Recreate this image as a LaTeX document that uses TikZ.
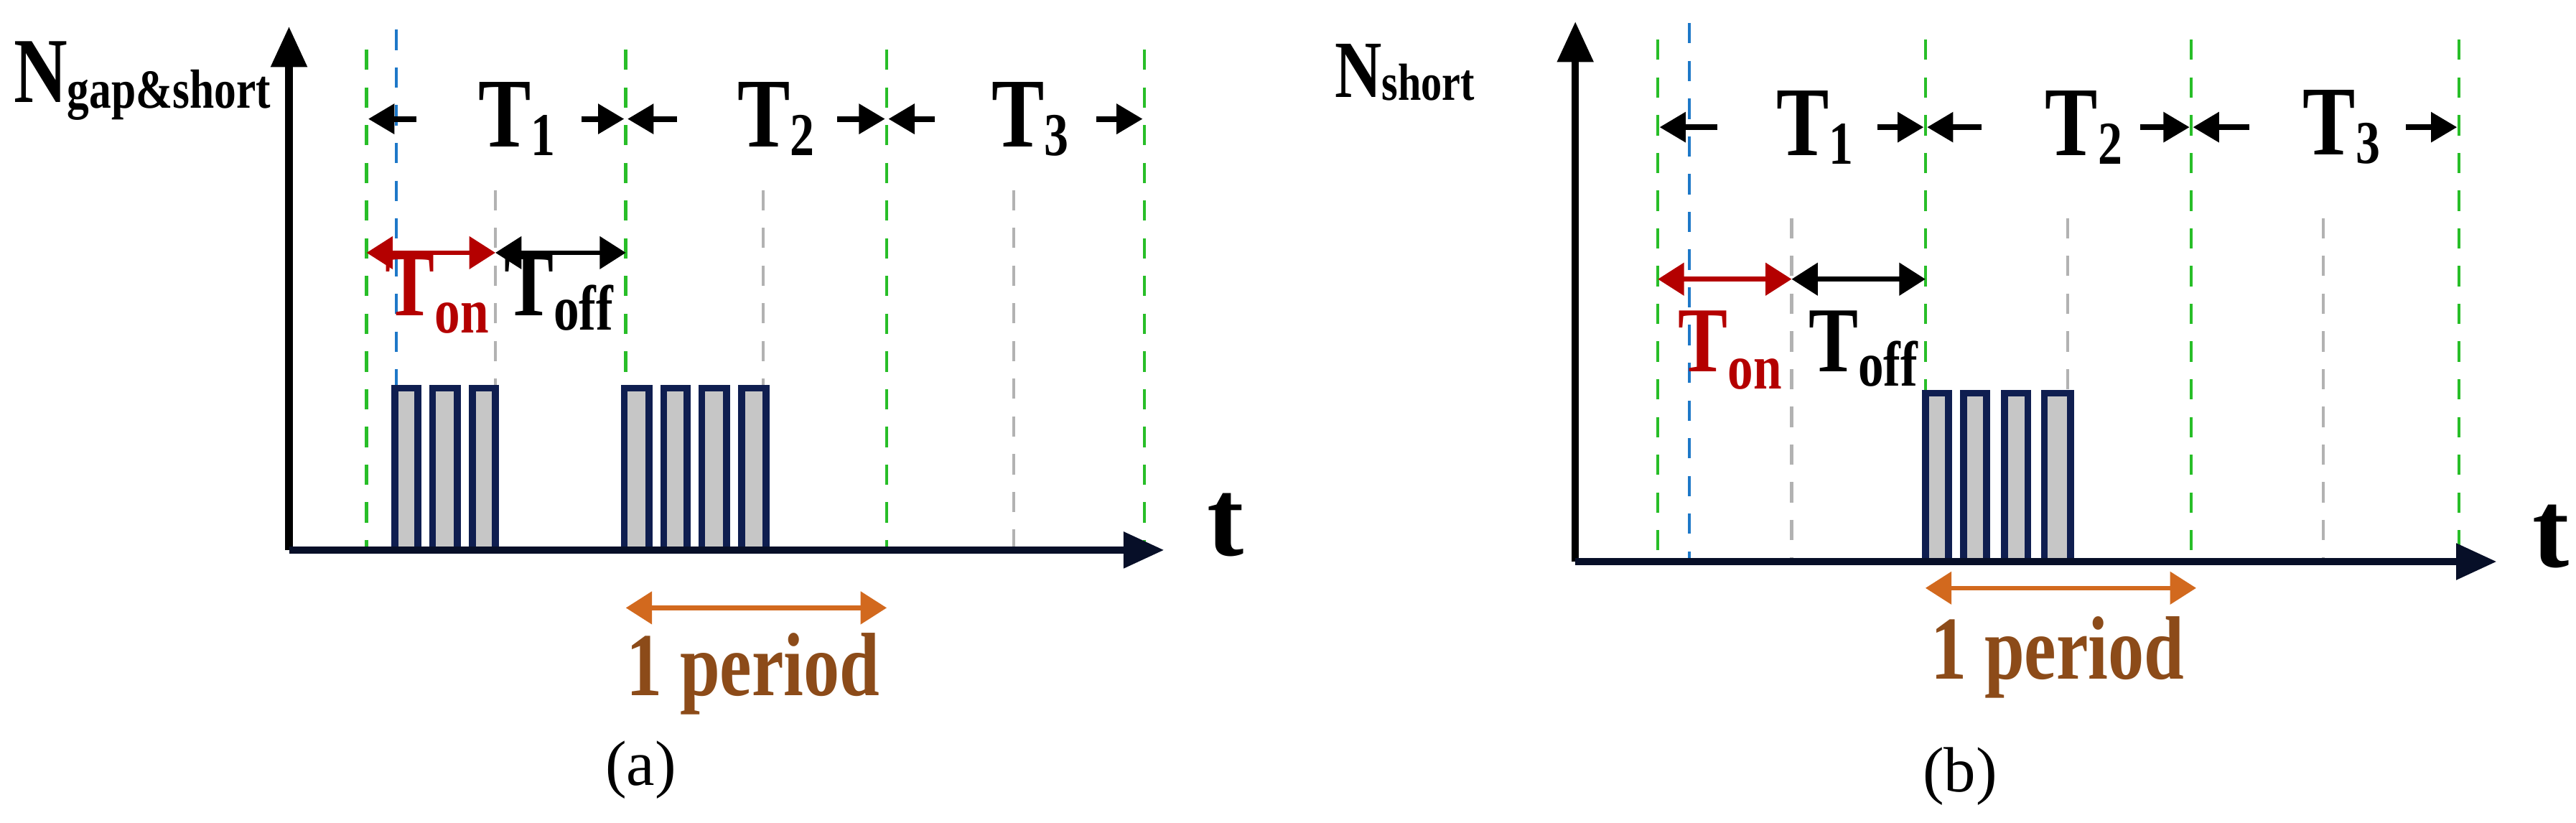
\documentclass[tikz,border=0pt]{standalone}
\usepackage{fontspec}
\setmainfont{Liberation Serif}
\usetikzlibrary{arrows.meta}
\definecolor{navy}{RGB}{15,30,80}
\definecolor{gdash}{RGB}{40,190,40}
\definecolor{bdash}{RGB}{30,120,200}
\definecolor{redA}{RGB}{180,0,0}
\definecolor{orA}{RGB}{210,105,30}
\definecolor{brA}{RGB}{140,75,25}
\newcommand{\nx}[1]{\scalebox{0.8}[1]{#1}}
\tikzset{
 axis/.style={line width=2.6pt,-{Triangle[length=14pt,width=12pt]}},
 gline/.style={gdash,line width=1.1pt,dash pattern=on 7pt off 6pt},
 bline/.style={bdash,line width=1.1pt,dash pattern=on 7pt off 6pt},
 grline/.style={gray!60,line width=1pt,dash pattern=on 7pt off 6pt},
 tarr/.style={line width=2pt,-{Triangle[length=9pt,width=10pt]}},
 dblarr/.style={line width=1.6pt,{Triangle[length=9pt,width=11pt]}-{Triangle[length=9pt,width=11pt]}},
 pulse/.style={draw=navy,line width=2.4pt,fill=gray!45},
 tlab/.style={font=\fontsize{34}{34}\selectfont\bfseries,inner sep=0pt},
 onlab/.style={font=\fontsize{32}{32}\selectfont\bfseries,inner sep=0pt,anchor=base west},
 perlab/.style={font=\fontsize{31}{31}\selectfont\bfseries,text=brA,inner sep=0pt},
 caplab/.style={font=\fontsize{22}{22}\selectfont,inner sep=0pt},
}
\begin{document}
\begin{tikzpicture}[x=0.02cm,y=-0.02cm]
\useasboundingbox (0,0) rectangle (1560,498);
% ===== Panel (a) =====
\coordinate (ao) at (175,333); \coordinate (ay) at (175,16); \coordinate (ax) at (705,333);
\foreach \x in {222,379,537,693} \draw[gline] (\x,30) -- (\x,333);
\draw[bline] (240,18) -- (240,333);
\foreach \x in {300,462,614} \draw[grline] (\x,115) -- (\x,333);
\foreach \a/\b in {239/253,262/277,286/300,378/393,402/416,425/440,449/464}
  \draw[pulse] (\a,333) rectangle (\b,235);
\draw[axis] (ao) -- (ay);
\draw[axis,navy!50!black] (ao) -- (ax);
\node[font=\fontsize{38}{38}\selectfont\bfseries,inner sep=0pt] (at) at (742,318) {t};
\node[font=\fontsize{32}{32}\selectfont\bfseries,inner sep=0pt,anchor=base west] (aN) at (8,62) {\nx{N\raisebox{-2pt}{\fontsize{19}{19}\selectfont gap\&short}}};
\node[tlab] (aT1) at (313,72) {\nx{T\raisebox{-3pt}{\fontsize{21}{21}\selectfont 1}}};
\node[tlab] (aT2) at (470,72) {\nx{T\raisebox{-3pt}{\fontsize{21}{21}\selectfont 2}}};
\node[tlab] (aT3) at (624,72) {\nx{T\raisebox{-3pt}{\fontsize{21}{21}\selectfont 3}}};
\coordinate (a1) at (223,72); \coordinate (a2) at (378,72); \coordinate (a3) at (380,72);
\coordinate (a4) at (536,72); \coordinate (a5) at (538,72); \coordinate (a6) at (692,72);
\draw[tarr] (a1 -| 252,0) -- (a1);
\draw[tarr] (a2 -| 352,0) -- (a2);
\draw[tarr] (a3 -| 410,0) -- (a3);
\draw[tarr] (a4 -| 507,0) -- (a4);
\draw[tarr] (a5 -| 566,0) -- (a5);
\draw[tarr] (a6 -| 664,0) -- (a6);
\coordinate (ar1) at (222,153); \coordinate (ar2) at (300,153); \coordinate (ar3) at (379,153);
\draw[dblarr,redA] (ar1) -- (ar2);
\draw[dblarr] (ar2) -- (ar3);
\node[onlab,text=redA] (aon) at (233,191) {\nx{T\raisebox{-6pt}{\fontsize{22}{22}\selectfont on}}};
\node[onlab] (aoff) at (305,191) {\nx{T\raisebox{-5pt}{\fontsize{22}{22}\selectfont off}}};
\coordinate (ap1) at (379,368); \coordinate (ap2) at (537,368);
\draw[dblarr,orA] (ap1) -- (ap2);
\node[perlab] (aper) at (456,408) {\nx{1 period}};
\node[caplab] (acap) at (388,466) {(a)};
% ===== Panel (b) =====
\coordinate (bo) at (954,340); \coordinate (by) at (954,13); \coordinate (bx) at (1512,340);
\foreach \x in {1004,1166,1327,1489} \draw[gline] (\x,24) -- (\x,340);
\draw[bline] (1023,14) -- (1023,340);
\foreach \x in {1085,1252,1407} \draw[grline] (\x,132) -- (\x,340);
\foreach \a/\b in {1166/1180,1189/1203,1214/1228,1238/1254}
  \draw[pulse] (\a,340) rectangle (\b,238);
\draw[axis] (bo) -- (by);
\draw[axis,navy!50!black] (bo) -- (bx);
\node[font=\fontsize{38}{38}\selectfont\bfseries,inner sep=0pt] (bt) at (1545,325) {t};
\node[font=\fontsize{28}{28}\selectfont\bfseries,inner sep=0pt,anchor=base west] (bN) at (808,59) {\nx{N\raisebox{-1pt}{\fontsize{18}{18}\selectfont short}}};
\node[tlab] (bT1) at (1099,77) {\nx{T\raisebox{-3pt}{\fontsize{21}{21}\selectfont 1}}};
\node[tlab] (bT2) at (1262,77) {\nx{T\raisebox{-3pt}{\fontsize{21}{21}\selectfont 2}}};
\node[tlab] (bT3) at (1418,77) {\nx{T\raisebox{-3pt}{\fontsize{21}{21}\selectfont 3}}};
\coordinate (b1) at (1005,77); \coordinate (b2) at (1165,77); \coordinate (b3) at (1167,77);
\coordinate (b4) at (1326,77); \coordinate (b5) at (1328,77); \coordinate (b6) at (1488,77);
\draw[tarr] (b1 -| 1040,0) -- (b1);
\draw[tarr] (b2 -| 1137,0) -- (b2);
\draw[tarr] (b3 -| 1200,0) -- (b3);
\draw[tarr] (b4 -| 1296,0) -- (b4);
\draw[tarr] (b5 -| 1362,0) -- (b5);
\draw[tarr] (b6 -| 1457,0) -- (b6);
\coordinate (br1) at (1004,169); \coordinate (br2) at (1085,169); \coordinate (br3) at (1166,169);
\draw[dblarr,redA] (br1) -- (br2);
\draw[dblarr] (br2) -- (br3);
\node[onlab,text=redA] (bon) at (1016,225) {\nx{T\raisebox{-6pt}{\fontsize{22}{22}\selectfont on}}};
\node[onlab] (boff) at (1095,225) {\nx{T\raisebox{-5pt}{\fontsize{22}{22}\selectfont off}}};
\coordinate (bp1) at (1166,356); \coordinate (bp2) at (1330,356);
\draw[dblarr,orA] (bp1) -- (bp2);
\node[perlab] (bper) at (1246,398) {\nx{1 period}};
\node[caplab] (bcap) at (1187,470) {(b)};
\end{tikzpicture}
\end{document}
